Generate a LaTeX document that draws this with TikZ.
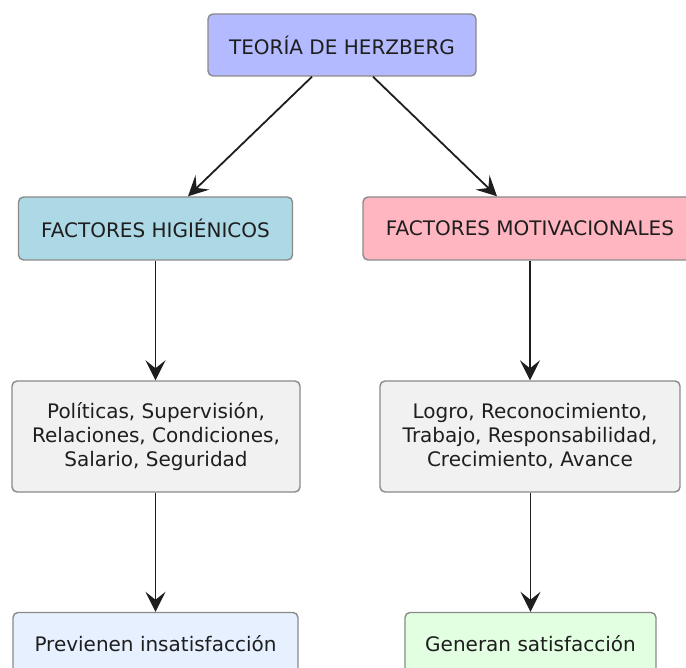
\documentclass[tikz,border=0pt]{standalone}
\usepackage{fontspec}
\setmainfont{DejaVu Sans}
\usetikzlibrary{arrows.meta}
\definecolor{edgegray}{HTML}{8A8A8A}
\definecolor{inkdark}{HTML}{1E1E1E}
\definecolor{topfill}{HTML}{B3BAFF}
\definecolor{higfill}{HTML}{ADD8E6}
\definecolor{motfill}{HTML}{FFB6C1}
\definecolor{listfill}{HTML}{F1F1F1}
\definecolor{prevfill}{HTML}{E6F0FF}
\definecolor{genfill}{HTML}{E2FFE2}
\tikzset{
  box/.style={draw=edgegray, line width=1.4pt, rounded corners=5pt,
    text=inkdark, align=center, inner sep=0pt,
    font=\fontsize{20}{24}\selectfont},
  link/.style={draw=inkdark, line width=1.8pt,
    -{Stealth[length=20pt, width=20pt, inset=8pt]}}
}
\begin{document}
\begin{tikzpicture}[x=1pt, y=-1pt]
\useasboundingbox (0,0) rectangle (686,668);

\node[box, fill=topfill, minimum width=268pt, minimum height=62pt]
  (teoria) at (342,45) {TEORÍA DE HERZBERG};

\node[box, fill=higfill, minimum width=274pt, minimum height=63pt]
  (hig) at (155.5,228.5) {FACTORES HIGIÉNICOS};
\node[box, fill=motfill, minimum width=334pt, minimum height=63pt]
  (mot) at (530,228.5) {FACTORES MOTIVACIONALES};

\node[box, fill=listfill, minimum width=288pt, minimum height=111pt]
  (higlist) at (156,436.5) {Políticas, Supervisión,\\Relaciones, Condiciones,\\Salario, Seguridad};
\node[box, fill=listfill, minimum width=300pt, minimum height=111pt]
  (motlist) at (530,436.5) {Logro, Reconocimiento,\\Trabajo, Responsabilidad,\\Crecimiento, Avance};

\node[box, fill=prevfill, minimum width=285pt, minimum height=63pt]
  (prev) at (155.5,644) {Previenen insatisfacción};
\node[box, fill=genfill, minimum width=251pt, minimum height=63pt]
  (gen) at (530.5,644) {Generan satisfacción};

\draw[link] ([xshift=-30pt]teoria.south) -- ([xshift=32.5pt]hig.north);
\draw[link] ([xshift=31pt]teoria.south) -- ([xshift=-33pt]mot.north);
\draw[link] (hig.south) -- (higlist.north -| hig.south);
\draw[link] (mot.south) -- (motlist.north -| mot.south);
\draw[link] (higlist.south -| prev.north) -- (prev.north);
\draw[link] (motlist.south -| gen.north) -- (gen.north);
\end{tikzpicture}
\end{document}
